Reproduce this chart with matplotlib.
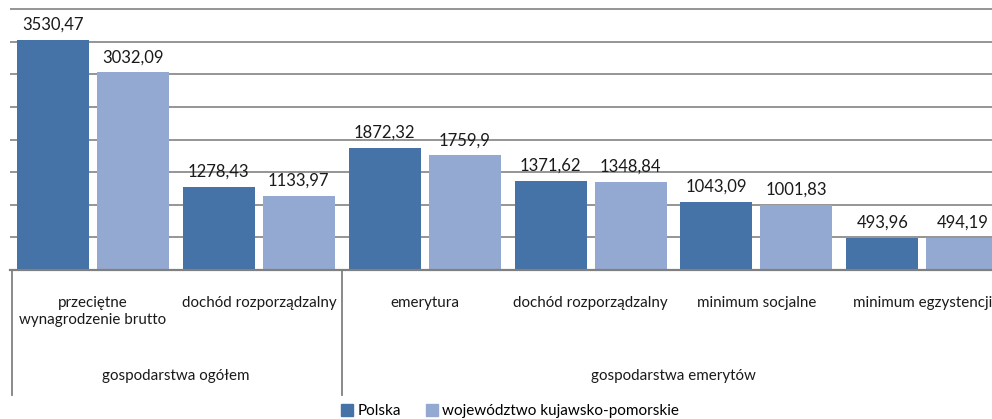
import matplotlib
matplotlib.use('Agg')
import matplotlib.pyplot as plt
from matplotlib.patches import Patch
import numpy as np

plt.rcParams['font.family'] = ['Lato', 'DejaVu Sans']

categories = ['przeciętne\nwynagrodzenie brutto', 'dochód rozporządzalny',
              'emerytura', 'dochód rozporządzalny', 'minimum socjalne',
              'minimum egzystencji']
groups = ['gospodarstwa ogółem', 'gospodarstwa emerytów']
group_spans = [(-0.5, 1.5), (1.5, 5.5)]
polska = [3530.47, 1278.43, 1872.32, 1371.62, 1043.09, 493.96]
kujawsko = [3032.09, 1133.97, 1759.9, 1348.84, 1001.83, 494.19]
series_names = ['Polska', 'województwo kujawsko-pomorskie']
colors = ['#4572A7', '#94A9D1']

W, H = 992, 419
fig = plt.figure(figsize=(W / 100, H / 100), dpi=100)
ax = fig.add_axes([10 / W, 149 / H, (W - 10) / W, 270 / H])

x = np.arange(len(categories))
bw = 0.434
off = 0.241
for vals, dx, c in [(polska, -off, colors[0]), (kujawsko, off, colors[1])]:
    bars = ax.bar(x + dx, vals, bw, color=c, zorder=3)
    for b, v in zip(bars, vals):
        ax.annotate(str(v).replace('.', ','), (b.get_x() + b.get_width() / 2, v),
                    xytext=(0, 5), textcoords='offset points',
                    ha='center', va='bottom', fontsize=12, color='#1a1a1a')

ax.set_xlim(-0.5, 5.42)
ax.set_ylim(0, 4141)
ax.set_yticks(np.arange(0, 4001, 500))
ax.yaxis.grid(True, color='#8c8c8c', linewidth=1.3, zorder=0)
ax.tick_params(left=False, bottom=False, labelleft=False, labelbottom=False)
for s in ['left', 'right', 'top']:
    ax.spines[s].set_visible(False)
ax.spines['bottom'].set_color('#808080')
ax.spines['bottom'].set_linewidth(1.6)
ax.spines['bottom'].set_zorder(4)

tr = ax.get_xaxis_transform()
for i, lab in enumerate(categories):
    ax.text(i, -0.095, lab, transform=tr, ha='center', va='top',
            fontsize=10.9, color='#1a1a1a', linespacing=1.3)
for (a, b), g in zip(group_spans, groups):
    ax.text((a + b) / 2, -0.393, g, transform=tr, ha='center', va='center',
            fontsize=10.9, color='#1a1a1a')
for xs in [-0.485, 1.5]:
    ax.plot([xs, xs], [0, -0.463], transform=tr, color='#808080',
            linewidth=1.3, clip_on=False)

handles = [Patch(color=c) for c in colors]
fig.legend(handles, series_names, loc='center', bbox_to_anchor=(510 / W, 0.019),
           ncol=2, frameon=False, fontsize=11, handlelength=0.8,
           handleheight=0.8, handletextpad=0.3, columnspacing=1.6)

fig.savefig('out.png', dpi=100)
